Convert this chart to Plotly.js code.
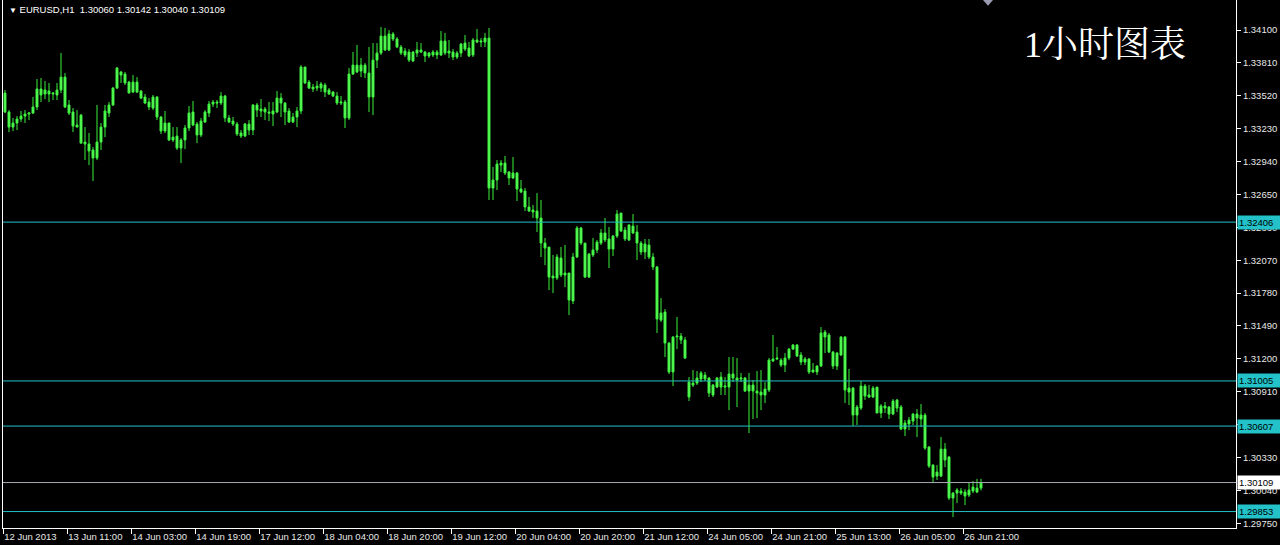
<!DOCTYPE html>
<html><head><meta charset="utf-8">
<script src="https://cdn.plot.ly/plotly-3.0.1.min.js"></script>
<style>html,body{margin:0;padding:0;background:#000;}#chart{width:1280px;height:545px;}</style>
</head><body><div id="chart"></div>
<script>
// EURUSD H1 candles (bar index 0..244), prices
const openP = [
1.33544,1.33377,1.33244,1.33280,1.33315,1.33341,1.33359,1.33368,1.33421,1.33580,
1.33536,1.33562,1.33536,1.33527,1.33571,1.33685,1.33439,1.33377,1.33262,1.33350,
1.33112,1.33095,1.33042,1.32971,1.33112,1.33244,1.33368,1.33439,1.33588,1.33730,
1.33712,1.33641,1.33553,1.33641,1.33562,1.33509,1.33465,1.33412,1.33509,1.33333,
1.33209,1.33280,1.33130,1.33165,1.33059,1.33130,1.33236,1.33377,1.33271,1.33174,
1.33289,1.33368,1.33447,1.33465,1.33456,1.33518,1.33324,1.33297,1.33271,1.33192,
1.33165,1.33271,1.33218,1.33439,1.33403,1.33403,1.33377,1.33359,1.33377,1.33500,
1.33456,1.33386,1.33289,1.33333,1.33386,1.33774,1.33641,1.33597,1.33588,1.33624,
1.33615,1.33571,1.33553,1.33518,1.33456,1.33465,1.33324,1.33712,1.33791,1.33738,
1.33791,1.33721,1.33509,1.33835,1.33897,1.34047,1.33924,1.34065,1.34021,1.33950,
1.33915,1.33906,1.33827,1.33897,1.33924,1.33906,1.33871,1.33906,1.33880,1.33880,
1.34003,1.33897,1.33906,1.33862,1.33897,1.33985,1.33941,1.33880,1.34012,1.33994,
1.33994,1.34029,1.32706,1.32777,1.32927,1.32927,1.32848,1.32795,1.32839,1.32698,
1.32680,1.32539,1.32512,1.32504,1.32442,1.32221,1.32186,1.31930,1.31913,1.32089,
1.31957,1.31957,1.31710,1.32098,1.32354,1.32221,1.31921,1.32116,1.32160,1.32221,
1.32310,1.32257,1.32168,1.32283,1.32486,1.32336,1.32248,1.32371,1.32318,1.32221,
1.32142,1.32204,1.32098,1.32010,1.31542,1.31613,1.31339,1.31084,1.31392,1.31401,
1.31366,1.30995,1.30969,1.30986,1.31022,1.31057,1.31031,1.30881,1.30951,1.31039,
1.30951,1.30951,1.31066,1.31031,1.31022,1.31031,1.30916,1.30969,1.30916,1.30907,
1.30881,1.30925,1.31181,1.31198,1.31189,1.31145,1.31207,1.31286,1.31322,1.31234,
1.31172,1.31198,1.31084,1.31084,1.31136,1.31436,1.31410,1.31260,1.31136,1.31234,
1.31392,1.30907,1.30942,1.30704,1.30766,1.30960,1.30881,1.30863,1.30951,1.30722,
1.30784,1.30775,1.30713,1.30837,1.30775,1.30581,1.30625,1.30651,1.30713,1.30669,
1.30704,1.30422,1.30263,1.30166,1.30166,1.30404,1.30334,1.29972,1.30016,1.30034,
1.30025,1.29999,1.30034,1.30025,1.30060];
const highP = [
1.33571,1.33394,1.33324,1.33341,1.33386,1.33394,1.33377,1.33509,1.33668,1.33677,
1.33650,1.33633,1.33553,1.33633,1.33897,1.33721,1.33483,1.33412,1.33394,1.33359,
1.33244,1.33192,1.33068,1.33439,1.33280,1.33439,1.33465,1.33597,1.33774,1.33738,
1.33730,1.33650,1.33703,1.33685,1.33571,1.33536,1.33500,1.33527,1.33518,1.33341,
1.33386,1.33280,1.33244,1.33244,1.33147,1.33262,1.33430,1.33474,1.33289,1.33324,
1.33394,1.33474,1.33483,1.33483,1.33553,1.33527,1.33350,1.33333,1.33289,1.33218,
1.33280,1.33306,1.33447,1.33456,1.33491,1.33421,1.33465,1.33465,1.33562,1.33544,
1.33465,1.33412,1.33368,1.33421,1.33791,1.33774,1.33659,1.33624,1.33650,1.33641,
1.33633,1.33588,1.33562,1.33553,1.33518,1.33483,1.33765,1.33906,1.33968,1.33853,
1.33809,1.33950,1.33985,1.33985,1.34126,1.34118,1.34100,1.34082,1.34038,1.33968,
1.33941,1.33932,1.33915,1.33994,1.33985,1.33915,1.33906,1.33924,1.33924,1.34091,
1.34074,1.34012,1.33932,1.33915,1.33985,1.34056,1.33994,1.34029,1.34109,1.34029,
1.34074,1.34118,1.32892,1.32953,1.32953,1.32989,1.32856,1.32980,1.32848,1.32777,
1.32706,1.32627,1.32557,1.32662,1.32601,1.32266,1.32186,1.32116,1.32124,1.32186,
1.32204,1.31957,1.32133,1.32371,1.32363,1.32221,1.32133,1.32266,1.32248,1.32345,
1.32442,1.32363,1.32292,1.32512,1.32486,1.32363,1.32389,1.32477,1.32380,1.32239,
1.32257,1.32257,1.32133,1.32019,1.31736,1.31639,1.31348,1.31401,1.31569,1.31428,
1.31392,1.31039,1.31101,1.31092,1.31092,1.31084,1.31039,1.30978,1.31039,1.31084,
1.31039,1.31216,1.31216,1.31207,1.31075,1.31039,1.31075,1.31013,1.31092,1.31101,
1.30995,1.31207,1.31410,1.31304,1.31207,1.31251,1.31295,1.31331,1.31331,1.31260,
1.31216,1.31207,1.31163,1.31145,1.31480,1.31454,1.31428,1.31269,1.31260,1.31401,
1.31401,1.31110,1.30951,1.30793,1.31004,1.30978,1.30969,1.30960,1.30951,1.30801,
1.30819,1.30784,1.30845,1.30845,1.30793,1.30660,1.30687,1.30722,1.30757,1.30801,
1.30722,1.30431,1.30272,1.30263,1.30510,1.30457,1.30343,1.30025,1.30060,1.30060,
1.30051,1.30104,1.30122,1.30140,1.30142];
const lowP = [
1.33368,1.33200,1.33209,1.33218,1.33289,1.33280,1.33306,1.33359,1.33394,1.33465,
1.33491,1.33465,1.33483,1.33483,1.33544,1.33412,1.33350,1.33200,1.33244,1.33095,
1.32953,1.32909,1.32768,1.32953,1.33042,1.33156,1.33333,1.33430,1.33580,1.33633,
1.33615,1.33544,1.33544,1.33544,1.33491,1.33447,1.33394,1.33394,1.33306,1.33183,
1.33192,1.33121,1.33112,1.33042,1.32927,1.33050,1.33209,1.33253,1.33103,1.33156,
1.33280,1.33333,1.33421,1.33412,1.33439,1.33289,1.33280,1.33253,1.33165,1.33147,
1.33156,1.33174,1.33174,1.33333,1.33333,1.33306,1.33297,1.33253,1.33368,1.33333,
1.33262,1.33280,1.33280,1.33244,1.33359,1.33624,1.33580,1.33553,1.33562,1.33553,
1.33509,1.33527,1.33509,1.33439,1.33439,1.33236,1.33306,1.33703,1.33721,1.33685,
1.33677,1.33377,1.33350,1.33765,1.33880,1.33915,1.33915,1.34003,1.33941,1.33880,
1.33862,1.33818,1.33818,1.33862,1.33897,1.33818,1.33853,1.33862,1.33844,1.33871,
1.33880,1.33853,1.33835,1.33844,1.33862,1.33915,1.33862,1.33862,1.33985,1.33950,
1.33950,1.32601,1.32601,1.32689,1.32848,1.32821,1.32733,1.32786,1.32592,1.32662,
1.32504,1.32495,1.32442,1.32318,1.32098,1.32027,1.31807,1.31780,1.31895,1.31921,
1.31833,1.31586,1.31683,1.32089,1.32204,1.31913,1.31913,1.32098,1.32133,1.32204,
1.32230,1.32001,1.32107,1.32266,1.32318,1.32239,1.32239,1.32301,1.32071,1.32116,
1.32080,1.32080,1.31983,1.31428,1.31525,1.31216,1.31066,1.30960,1.31286,1.31331,
1.31198,1.30828,1.30951,1.30969,1.30995,1.31004,1.30863,1.30863,1.30942,1.30881,
1.30881,1.30748,1.30995,1.30775,1.30995,1.30907,1.30545,1.30669,1.30678,1.30748,
1.30810,1.30907,1.31172,1.31189,1.31128,1.31084,1.31189,1.31278,1.31216,1.31145,
1.31145,1.31066,1.31075,1.31057,1.31128,1.31251,1.31251,1.31110,1.31101,1.31225,
1.30810,1.30793,1.30607,1.30616,1.30748,1.30837,1.30854,1.30854,1.30722,1.30678,
1.30722,1.30669,1.30704,1.30731,1.30572,1.30519,1.30572,1.30616,1.30510,1.30598,
1.30396,1.30237,1.30104,1.30131,1.30157,1.30245,1.29955,1.29805,1.29928,1.29999,
1.29910,1.29981,1.30016,1.30016,1.30040];
const closeP = [
1.33377,1.33244,1.33280,1.33315,1.33341,1.33359,1.33368,1.33421,1.33580,1.33527,
1.33571,1.33536,1.33544,1.33571,1.33685,1.33421,1.33368,1.33253,1.33244,1.33103,
1.33095,1.33033,1.32971,1.33112,1.33244,1.33386,1.33439,1.33588,1.33765,1.33703,
1.33633,1.33544,1.33641,1.33553,1.33500,1.33456,1.33421,1.33509,1.33333,1.33209,
1.33280,1.33130,1.33156,1.33059,1.33130,1.33236,1.33368,1.33262,1.33174,1.33297,
1.33377,1.33447,1.33465,1.33456,1.33518,1.33324,1.33289,1.33271,1.33183,1.33165,
1.33271,1.33218,1.33439,1.33394,1.33386,1.33377,1.33368,1.33386,1.33500,1.33456,
1.33377,1.33289,1.33333,1.33386,1.33774,1.33633,1.33588,1.33580,1.33606,1.33588,
1.33553,1.33536,1.33518,1.33456,1.33465,1.33324,1.33712,1.33791,1.33730,1.33791,
1.33721,1.33509,1.33835,1.33897,1.34047,1.33924,1.34065,1.34021,1.33950,1.33897,
1.33880,1.33835,1.33906,1.33924,1.33906,1.33871,1.33897,1.33880,1.33906,1.34003,
1.33897,1.33915,1.33862,1.33897,1.33977,1.33932,1.33871,1.34012,1.33994,1.34003,
1.34029,1.32706,1.32777,1.32918,1.32909,1.32839,1.32795,1.32839,1.32698,1.32671,
1.32539,1.32504,1.32495,1.32442,1.32221,1.32177,1.31921,1.31913,1.32098,1.31939,
1.31939,1.31719,1.32098,1.32354,1.32221,1.31921,1.32124,1.32160,1.32230,1.32310,
1.32248,1.32168,1.32283,1.32477,1.32327,1.32257,1.32380,1.32310,1.32221,1.32142,
1.32213,1.32098,1.32010,1.31551,1.31604,1.31339,1.31084,1.31392,1.31401,1.31366,
1.31207,1.30863,1.30986,1.31031,1.31075,1.31022,1.30898,1.30969,1.31031,1.30951,
1.30960,1.31066,1.31031,1.31013,1.31031,1.30916,1.30969,1.30916,1.30898,1.30881,
1.30933,1.31189,1.31198,1.31207,1.31145,1.31207,1.31286,1.31322,1.31225,1.31172,
1.31198,1.31084,1.31101,1.31136,1.31428,1.31392,1.31260,1.31136,1.31251,1.31392,
1.30925,1.30942,1.30704,1.30775,1.30960,1.30872,1.30863,1.30942,1.30722,1.30784,
1.30766,1.30713,1.30828,1.30766,1.30581,1.30634,1.30660,1.30713,1.30678,1.30704,
1.30413,1.30254,1.30157,1.30201,1.30404,1.30307,1.29972,1.30016,1.30043,1.30016,
1.29990,1.30043,1.30069,1.30060,1.30109];

// time-axis labels, one every 16 bars
const timeLabels = ['12 Jun 2013','13 Jun 11:00','14 Jun 03:00','14 Jun 19:00','17 Jun 12:00',
  '18 Jun 04:00','18 Jun 20:00','19 Jun 12:00','20 Jun 04:00','20 Jun 20:00','21 Jun 12:00',
  '24 Jun 05:00','24 Jun 21:00','25 Jun 13:00','26 Jun 05:00','26 Jun 21:00'];
const labelStep = 16;

// price scale ticks
const priceTicks = [1.29750,1.30040,1.30330,1.30620,1.30910,1.31200,1.31490,1.31780,
  1.32070,1.32360,1.32650,1.32940,1.33230,1.33520,1.33810,1.34100];

// horizontal levels
const levelLines = [1.32406, 1.31005, 1.30607, 1.29853];
const bidPrice = 1.30109;

const symbolInfo = 'EURUSD,H1';
const lastOHLC = [1.30060, 1.30142, 1.30040, 1.30109];
const chartTitle = '1小时图表';

const barIndex = openP.map((_, i) => i);
const GREEN = '#3af03a';
const CYAN = '#22c2c8';
const AXFONT = {family: 'Liberation Sans, Arial, sans-serif', size: 9.5, color: '#e8e8e8'};

const trace = {
  type: 'candlestick', x: barIndex, open: openP, high: highP, low: lowP, close: closeP,
  increasing: {line: {color: GREEN, width: 1}, fillcolor: '#66ff66'},
  decreasing: {line: {color: GREEN, width: 1}, fillcolor: '#66ff66'},
  whiskerwidth: 0, hoverinfo: 'skip', showlegend: false
};

const shapes = levelLines.map(v => ({
  type: 'line', xref: 'paper', x0: 0, x1: 1, yref: 'y', y0: v, y1: v,
  line: {color: CYAN, width: 1}
}));
shapes.push({type: 'line', xref: 'paper', x0: 0, x1: 1, yref: 'y', y0: bidPrice, y1: bidPrice,
  line: {color: '#a9a9b4', width: 1}});
shapes.push({type: 'path', xref: 'paper', yref: 'paper',
  path: 'M 0.7948 1 L 0.8029 1 L 0.7989 0.989 Z', fillcolor: '#9a9ab0', line: {width: 0}});

const annotations = levelLines.map(v => ({
  xref: 'paper', x: 1, xanchor: 'left', xshift: 1, yref: 'y', y: v, yanchor: 'middle',
  text: v.toFixed(5), showarrow: false, bgcolor: CYAN, borderpad: 1, width: 40, height: 11,
  align: 'left', font: {family: AXFONT.family, size: 9.5, color: '#000'}
}));
annotations.push({
  xref: 'paper', x: 1, xanchor: 'left', xshift: 1, yref: 'y', y: bidPrice, yanchor: 'middle',
  text: bidPrice.toFixed(5), showarrow: false, bgcolor: '#ffffff', borderpad: 1, width: 40, height: 11,
  align: 'left', font: {family: AXFONT.family, size: 9.5, color: '#000'}
});
annotations.push({
  xref: 'paper', x: 0, xanchor: 'left', xshift: 4, yref: 'paper', y: 1, yanchor: 'top', yshift: -2,
  text: '<span style="font-size:8px">▼</span>\u00a0' + symbolInfo + '\u00a0\u00a0' + lastOHLC.map(v => v.toFixed(5)).join('\u00a0'),
  showarrow: false, font: {family: 'Liberation Sans, Arial, sans-serif', size: 9.5, color: '#ffffff'}
});
annotations.push({
  xref: 'paper', x: 0.8265, xanchor: 'left', yref: 'paper', y: 0.915, yanchor: 'middle',
  text: chartTitle, showarrow: false,
  font: {family: 'Liberation Serif, Noto Serif CJK SC, Noto Sans CJK SC, serif', size: 36, color: '#ffffff'}
});

const layout = {
  width: 1280, height: 545,
  margin: {l: 3, r: 44, t: 0, b: 17, pad: 0},
  paper_bgcolor: '#000', plot_bgcolor: '#000',
  showlegend: false, hovermode: false,
  xaxis: {
    type: 'linear', range: [-0.5, 307.75], fixedrange: true,
    tickmode: 'array',
    tickvals: timeLabels.map((_, k) => k * labelStep - 0.45),
    ticktext: timeLabels,
    ticks: 'outside', ticklen: 5, tickcolor: '#ffffff', tickwidth: 1,
    ticklabelposition: 'outside right',
    showline: true, linecolor: '#ffffff', linewidth: 1,
    showgrid: false, zeroline: false,
    tickfont: AXFONT,
    rangeslider: {visible: false}
  },
  yaxis: {
    side: 'right', range: [1.29708, 1.34365], fixedrange: true,
    tickmode: 'array', tickvals: priceTicks, ticktext: priceTicks.map(v => v.toFixed(5)),
    ticks: 'outside', ticklen: 4, tickcolor: '#ffffff', tickwidth: 1,
    showline: true, linecolor: '#ffffff', linewidth: 1, mirror: true,
    showgrid: false, zeroline: false,
    tickfont: AXFONT
  },
  shapes: shapes,
  annotations: annotations
};

Plotly.newPlot('chart', [trace], layout, {staticPlot: true, displayModeBar: false});
</script>
</body></html>
